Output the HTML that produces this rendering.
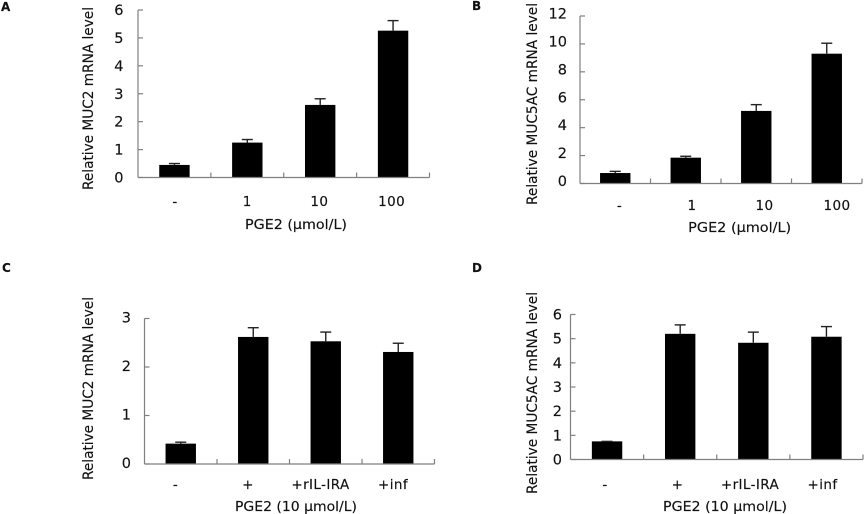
<!DOCTYPE html>
<html>
<head>
<meta charset="utf-8">
<title>Relative MUC2 and MUC5AC mRNA levels</title>
<style>
html,body{margin:0;padding:0;background:#fff;}
svg{display:block;}
text{font-family:"DejaVu Sans","Liberation Sans",sans-serif;fill:#111;stroke:#111;stroke-width:0.15;}
</style>
</head>
<body>
<svg id="figure" width="865" height="514" viewBox="0 0 865 514" xmlns="http://www.w3.org/2000/svg"></svg>
<script>
// Panel A
const aCategories = ['-', '1', '10', '100'];
const aValues = [0.45, 1.25, 2.6, 5.26];
const aErrors = [0.05, 0.11, 0.22, 0.36];
const aTicks = [0, 1, 2, 3, 4, 5, 6];
// Panel B
const bCategories = ['-', '1', '10', '100'];
const bValues = [0.75, 1.85, 5.2, 9.3];
const bErrors = [0.12, 0.1, 0.45, 0.75];
const bTicks = [0, 2, 4, 6, 8, 10, 12];
// Panel C
const cCategories = ['-', '+', '+rIL-IRA', '+inf'];
const cValues = [0.42, 2.62, 2.53, 2.31];
const cErrors = [0.03, 0.19, 0.19, 0.18];
const cTicks = [0, 1, 2, 3];
// Panel D
const dCategories = ['-', '+', '+rIL-IRA', '+inf'];
const dValues = [0.75, 5.2, 4.83, 5.08];
const dErrors = [0, 0.37, 0.44, 0.42];
const dTicks = [0, 1, 2, 3, 4, 5, 6];

const panels = [
  {id:'a', letter:'A', lx:1, ly:11, categories:aCategories, values:aValues, errors:aErrors, ticks:aTicks,
   left:138, right:429.5, top:10, bottom:177.5, tickRight:123.5, tickDy:5,
   catStart:175, catStep:72.2, catY:206, xTitle:'PGE2 (\u00b5mol/L)', xTitleX:296, xTitleY:229, xTitleLen:102,
   yTitle:'Relative MUC2 mRNA level', yTitleX:93, yTitleMid:98.5, yTitleLen:183},
  {id:'b', letter:'B', lx:472, ly:10, categories:bCategories, values:bValues, errors:bErrors, ticks:bTicks,
   left:580, right:862, top:16, bottom:183.5, tickRight:567, tickDy:2.5,
   catStart:619.5, catStep:72.5, catY:210, xTitle:'PGE2 (\u00b5mol/L)', xTitleX:739.7, xTitleY:232, xTitleLen:103,
   yTitle:'Relative MUC5AC mRNA level', yTitleX:537, yTitleMid:104, yTitleLen:202},
  {id:'c', letter:'C', lx:2, ly:272, categories:cCategories, values:cValues, errors:cErrors, ticks:cTicks,
   left:144.5, right:434.5, top:318.5, bottom:464, tickRight:131, tickDy:4,
   catStart:175.5, catStep:72.5, catY:489, xTitle:'PGE2 (10 \u00b5mol/L)', xTitleX:296, xTitleY:511, xTitleLen:122,
   yTitle:'Relative MUC2 mRNA level', yTitleX:93, yTitleMid:388.5, yTitleLen:183},
  {id:'d', letter:'D', lx:472, ly:272, categories:dCategories, values:dValues, errors:dErrors, ticks:dTicks,
   left:570.5, right:863, top:314.5, bottom:459.5, tickRight:562, tickDy:5,
   catStart:605, catStep:72.5, catY:489, xTitle:'PGE2 (10 \u00b5mol/L)', xTitleX:725, xTitleY:511, xTitleLen:124,
   yTitle:'Relative MUC5AC mRNA level', yTitleX:537, yTitleMid:393, yTitleLen:202}
];

const NS = 'http://www.w3.org/2000/svg';
const svg = document.getElementById('figure');
const AXIS = '#808080';

function mk(tag, attrs, parent, txt) {
  const el = document.createElementNS(NS, tag);
  for (const k in attrs) el.setAttribute(k, attrs[k]);
  if (txt !== undefined) el.textContent = txt;
  parent.appendChild(el);
  return el;
}

panels.forEach(function (p) {
  const g = mk('g', {}, svg);
  
  

  const maxTick = p.ticks[p.ticks.length - 1];
  const y = function (v) { return p.bottom - (v / maxTick) * (p.bottom - p.top); };
  const band = (p.right - p.left) / p.categories.length;
  const xc = function (i) { return p.left + band * (i + 0.5); };

  const letter = mk('text', {x:p.lx, y:p.ly, 'font-size':12, 'font-weight':'bold'}, g, p.letter);
  
  

  // bars and error bars
  p.values.forEach(function (v, i) {
    const bar = mk('rect', {x:xc(i) - 15.2, y:y(v), width:30.4, height:p.bottom - y(v), fill:'#000'}, g);
    
    
    const et = y(v + p.errors[i]);
    const stem = mk('line', {x1:xc(i), x2:xc(i), y1:y(v), y2:et, stroke:'#222', 'stroke-width':1.4}, g);
    
    
    const cap = mk('line', {x1:xc(i) - 5.5, x2:xc(i) + 5.5, y1:et, y2:et, stroke:'#222', 'stroke-width':1.4}, g);
    
    
  });

  // axes
  const yAxis = mk('line', {x1:p.left, x2:p.left, y1:p.top, y2:p.bottom, stroke:AXIS, 'stroke-width':1.2}, g);
  
  
  const xAxis = mk('line', {x1:p.left, x2:p.right, y1:p.bottom, y2:p.bottom, stroke:AXIS, 'stroke-width':1.2}, g);
  
  

  // y ticks
  p.ticks.forEach(function (t) {
    const tick = mk('line', {x1:p.left, x2:p.left + 5, y1:y(t), y2:y(t), stroke:AXIS, 'stroke-width':1.2}, g);
    
    
    const lab = mk('text', {x:p.tickRight, y:y(t) + p.tickDy, 'font-size':14.5, 'text-anchor':'end'}, g, String(t));
    
    
  });

  // x ticks and category labels
  p.categories.forEach(function (c, i) {
    const tx = p.left + band * (i + 1);
    const tick = mk('line', {x1:tx, x2:tx, y1:p.bottom, y2:p.bottom - 5, stroke:AXIS, 'stroke-width':1.2}, g);
    
    
    const lab = mk('text', {x:p.catStart + p.catStep * i, y:p.catY, 'font-size':13.5, 'letter-spacing':0.4, 'text-anchor':'middle'}, g, c);
    
    
  });

  const xt = mk('text', {x:p.xTitleX, y:p.xTitleY, 'font-size':13.5, 'text-anchor':'middle',
    textLength:p.xTitleLen, lengthAdjust:'spacingAndGlyphs'}, g, p.xTitle);
  
  

  const yt = mk('text', {x:0, y:0, 'font-size':14.5, 'text-anchor':'middle',
    textLength:p.yTitleLen, lengthAdjust:'spacingAndGlyphs',
    transform:'translate(' + p.yTitleX + ' ' + p.yTitleMid + ') rotate(-90)'}, g, p.yTitle);
  
  
});
</script>
</body>
</html>
